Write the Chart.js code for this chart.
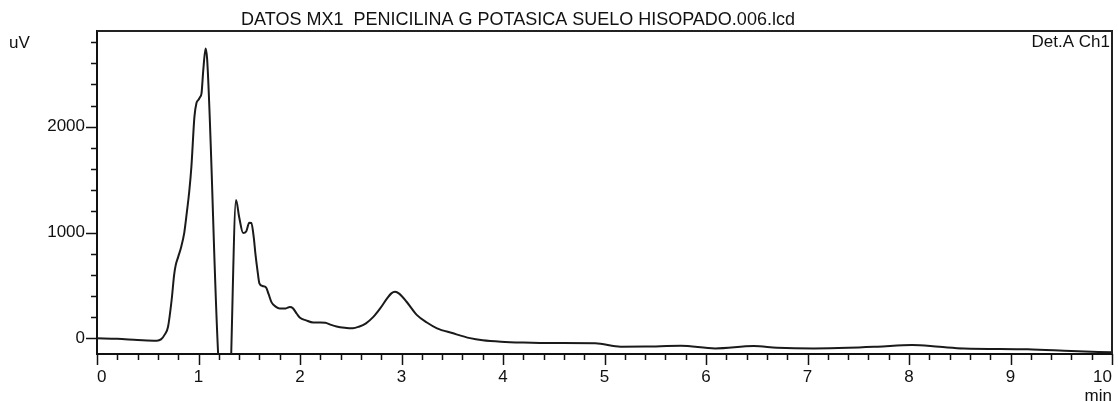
<!DOCTYPE html>
<html lang="es">
  <head>
    <meta charset="UTF-8" />
    <title>DATOS MX1 PENICILINA G POTASICA SUELO HISOPADO.006.lcd</title>
    <script src="https://cdn.jsdelivr.net/npm/chart.js"></script>
    <style>
      html, body { margin: 0; padding: 0; background: #fff; }
    </style>
  </head>
  <body>
    <canvas id="chromChart" width="1118" height="402"></canvas>
    <script>
      // chromatogram, Det.A Ch1
      const chartTitle = "DATOS MX1  PENICILINA G POTASICA SUELO HISOPADO.006.lcd";
      const detectorLabel = "Det.A Ch1";
      const yUnit = "uV";
      const xUnit = "min";

      // retention time (min)
      const retentionTimes = [
        0.0, 0.2, 0.4, 0.59, 0.63, 0.67, 0.7, 0.735, 0.76, 0.775, 0.8, 0.83,
        0.86, 0.88, 0.91, 0.93, 0.96, 0.98, 1.0, 1.015, 1.03, 1.047, 1.07,
        1.085, 1.22, 1.3, 1.37, 1.4, 1.44, 1.47, 1.5, 1.52, 1.545, 1.56, 1.58,
        1.6, 1.63, 1.665, 1.69, 1.72, 1.76, 1.8, 1.86, 1.9, 1.93, 1.97, 2.0,
        2.06, 2.13, 2.2, 2.25, 2.3, 2.36, 2.44, 2.52, 2.58, 2.65, 2.72, 2.79,
        2.86, 2.9, 2.936, 2.98, 3.05, 3.15, 3.25, 3.35, 3.5, 3.675, 3.8, 3.98,
        4.2, 4.5, 4.91, 5.16, 5.4, 5.75, 6.09, 6.47, 6.7, 7.06, 7.4, 7.69,
        8.03, 8.3, 8.54, 9.17, 9.6, 10.0
      ];
      // detector signal (uV)
      const signal = [
        0, -5, -15, -22, -10, 40, 110, 360, 600, 690, 770, 866,
        1000, 1150, 1400, 1622, 2095, 2224, 2255, 2280, 2318, 2535, 2740,
        2640, -500, -600, 1307, 1150, 995, 1010, 1093, 1090, 950, 806, 650,
        520, 495, 482, 420, 340, 300, 283, 283, 296, 285, 230, 195,
        170, 150, 150, 148, 130, 112, 100, 95, 110, 142, 200, 283,
        380, 425, 440, 420, 346, 222, 150, 95, 50, 2, -18, -32,
        -40, -45, -47, -79, -78, -70, -95, -73, -88, -95, -90, -79,
        -63, -80, -95, -104, -120, -132
      ];

      const xTickLabels = ["0", "1", "2", "3", "4", "5", "6", "7", "8", "9", "10"];
      const yTickLabels = ["0", "1000", "2000"];
      const xMinorStep = 0.2;
      const yMinorStep = 200;

      const fontFamily = "'Liberation Sans', Arial, sans-serif";
      const textColor = "#111";

      const points = retentionTimes.map((t, i) => ({ x: t, y: signal[i] }));

      const xTickValues = [];
      for (let v = 0; v <= 10 + 1e-9; v += xMinorStep) xTickValues.push(+v.toFixed(1));
      const yTickValues = [];
      for (let v = 0; v <= 2800; v += yMinorStep) yTickValues.push(v);

      // frame, tick marks and the free text round the plot
      const chromDecor = {
        id: "chromDecor",
        afterDraw(chart) {
          const { ctx, chartArea: a, scales } = chart;
          ctx.save();
          ctx.strokeStyle = "#222";
          ctx.lineWidth = 2;
          ctx.beginPath();
          ctx.moveTo(a.left, a.top);
          ctx.lineTo(a.right, a.top);
          ctx.lineTo(a.right, a.bottom);
          ctx.stroke();

          ctx.strokeStyle = "#111";
          ctx.lineWidth = 1.5;
          ctx.beginPath();
          scales.x.ticks.forEach((t) => {
            const px = Math.round(scales.x.getPixelForValue(t.value)) + 0.5;
            const major = xTickLabels.includes(String(t.value));
            ctx.moveTo(px, a.bottom);
            ctx.lineTo(px, a.bottom + (major ? 11 : 6));
          });
          scales.y.ticks.forEach((t) => {
            const py = Math.round(scales.y.getPixelForValue(t.value)) + 0.5;
            const major = yTickLabels.includes(String(t.value));
            ctx.moveTo(a.left, py);
            ctx.lineTo(a.left - (major ? 11 : 6), py);
          });
          ctx.stroke();

          ctx.fillStyle = textColor;
          ctx.textBaseline = "alphabetic";
          ctx.font = "18px " + fontFamily;
          ctx.textAlign = "center";
          ctx.fillText(chartTitle, 518, 25);
          ctx.font = "17px " + fontFamily;
          ctx.textAlign = "left";
          ctx.fillText(yUnit, 9, 48);
          ctx.textAlign = "right";
          ctx.fillText(detectorLabel, a.right - 2, 47);
          ctx.restore();
        },
      };

      const ctx = document.getElementById("chromChart").getContext("2d");
      new Chart(ctx, {
        type: "line",
        data: {
          datasets: [
            {
              data: points,
              borderColor: "#1a1a1a",
              borderWidth: 2,
              pointRadius: 0,
              fill: false,
              cubicInterpolationMode: "monotone",
            },
          ],
        },
        options: {
          responsive: false,
          animation: false,
          layout: { padding: { top: 31, right: 6, left: 0, bottom: 0 } },
          plugins: {
            legend: { display: false },
            tooltip: { enabled: false },
          },
          scales: {
            x: {
              type: "linear",
              min: 0,
              max: 10,
              afterBuildTicks: (scale) => {
                scale.ticks = xTickValues.map((v) => ({ value: v }));
              },
              afterFit: (scale) => {
                scale.height = 48;
              },
              grid: { display: false, drawTicks: true, tickLength: 11 },
              border: { display: true, color: "#111", width: 2 },
              ticks: {
                autoSkip: false,
                maxRotation: 0,
                align: "inner",
                padding: 2,
                color: textColor,
                font: { family: fontFamily, size: 17 },
                callback: (v) => (xTickLabels.includes(String(v)) ? String(v) : ""),
              },
              title: {
                display: true,
                text: xUnit,
                align: "end",
                color: textColor,
                font: { family: fontFamily, size: 17, lineHeight: 0.7 },
                padding: 0,
              },
            },
            y: {
              min: -148,
              max: 2905,
              afterBuildTicks: (scale) => {
                scale.ticks = yTickValues.map((v) => ({ value: v }));
              },
              afterFit: (scale) => {
                scale.width = 97;
              },
              grid: { display: false, drawTicks: true, tickLength: 11 },
              border: { display: true, color: "#111", width: 2 },
              ticks: {
                autoSkip: false,
                padding: 1,
                color: textColor,
                font: { family: fontFamily, size: 17 },
                callback: (v) => (yTickLabels.includes(String(v)) ? String(v) : ""),
              },
            },
          },
        },
        plugins: [chromDecor],
      });
    </script>
  </body>
</html>
